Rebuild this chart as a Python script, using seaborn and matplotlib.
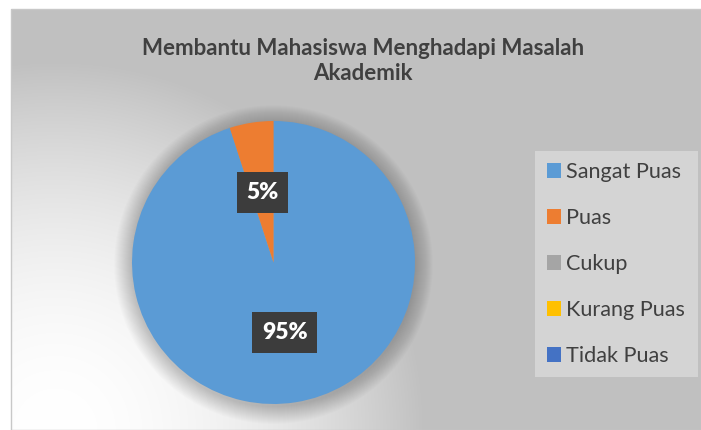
import numpy as np
import matplotlib
matplotlib.use("Agg")
import matplotlib.pyplot as plt
from matplotlib.patches import Rectangle, Circle, Patch
import seaborn as sns

title = "Membantu Mahasiswa Menghadapi Masalah\nAkademik"
categories = ["Sangat Puas", "Puas", "Cukup", "Kurang Puas", "Tidak Puas"]
values = [95, 5, 0, 0, 0]
colors = ["#5B9BD5", "#ED7D31", "#A5A5A5", "#FFC000", "#4472C4"]

sns.set_theme(style="white")
plt.rcParams["font.family"] = ["Lato", "DejaVu Sans"]
palette = sns.color_palette(colors)

W, H = 701, 430
fig = plt.figure(figsize=(W / 100, H / 100), dpi=100)
fig.patch.set_facecolor("white")

# background gradient (chart area)
bg = fig.add_axes([0, 0, 1, 1], zorder=0)
yy, xx = np.mgrid[0:H, 0:W]
d = np.hypot(xx - 55, yy - 430)
t = np.clip(d / 370.0, 0, 1) ** 1.9
val = (255 - 63 * t) / 255.0
img = np.dstack([val, val, val])
mask = (xx < 11) | (yy < 9)
img[mask] = 1.0
bg.imshow(img, extent=(0, W, H, 0), aspect="auto", interpolation="bilinear")
bg.add_patch(Rectangle((11, 9), W - 11, H - 9, fill=False, edgecolor="#c8c8c8", lw=1))
bg.set_xlim(0, W)
bg.set_ylim(H, 0)
bg.axis("off")

# legend background
bg.add_patch(Rectangle((535, 151), 163, 226, facecolor="#d4d4d4", edgecolor="none"))

# pie axes
cx, cy, r = 273.5, 262.5, 141.5
ax = fig.add_axes([(cx - r) / W, (H - cy - r) / H, 2 * r / W, 2 * r / H], zorder=1)
ax.set_xlim(-1, 1)
ax.set_ylim(-1, 1)
ax.axis("off")

# soft shadow
for k in range(18):
    rr = 1.0 + 0.007 * (k + 1)
    ax.add_patch(Circle((0.0, -0.015), rr, facecolor="black", alpha=0.011, edgecolor="none",
                        clip_on=False, zorder=0))

nz = [(c, v, col) for c, v, col in zip(categories, values, palette) if v > 0]
wedges, _ = ax.pie([v for _, v, _ in nz], colors=[col for _, _, col in nz], startangle=90,
                   counterclock=False, radius=1, wedgeprops=dict(linewidth=0))
ax.set_xlim(-1, 1)
ax.set_ylim(-1, 1)

total = sum(values)
for w, (c, v, col) in zip(wedges, nz):
    ang = np.deg2rad((w.theta1 + w.theta2) / 2)
    x, y = 0.5 * np.cos(ang), 0.5 * np.sin(ang)
    ax.text(x, y, f"{v / total * 100:.0f}%", ha="center", va="center", color="white",
            fontsize=16.5, fontweight="heavy", zorder=5,
            bbox=dict(boxstyle="square,pad=0.42", facecolor="#3c3c3c", edgecolor="none"))

# title
fig.text(363 / W, 1 - 61 / H, title, ha="center", va="center", fontsize=16,
         fontweight="bold", color="#404040", linespacing=1.2)

# legend
handles = [Patch(facecolor=col, edgecolor="none") for col in palette]
leg = fig.legend(handles, categories, loc="center left", bbox_to_anchor=(547 / W, 1 - 264 / H),
                 frameon=False, fontsize=15.6, labelcolor="#404040", handlelength=0.64,
                 handleheight=0.64, handletextpad=0.25, labelspacing=1.2, borderpad=0,
                 borderaxespad=0)

fig.savefig("out.png", dpi=100)
